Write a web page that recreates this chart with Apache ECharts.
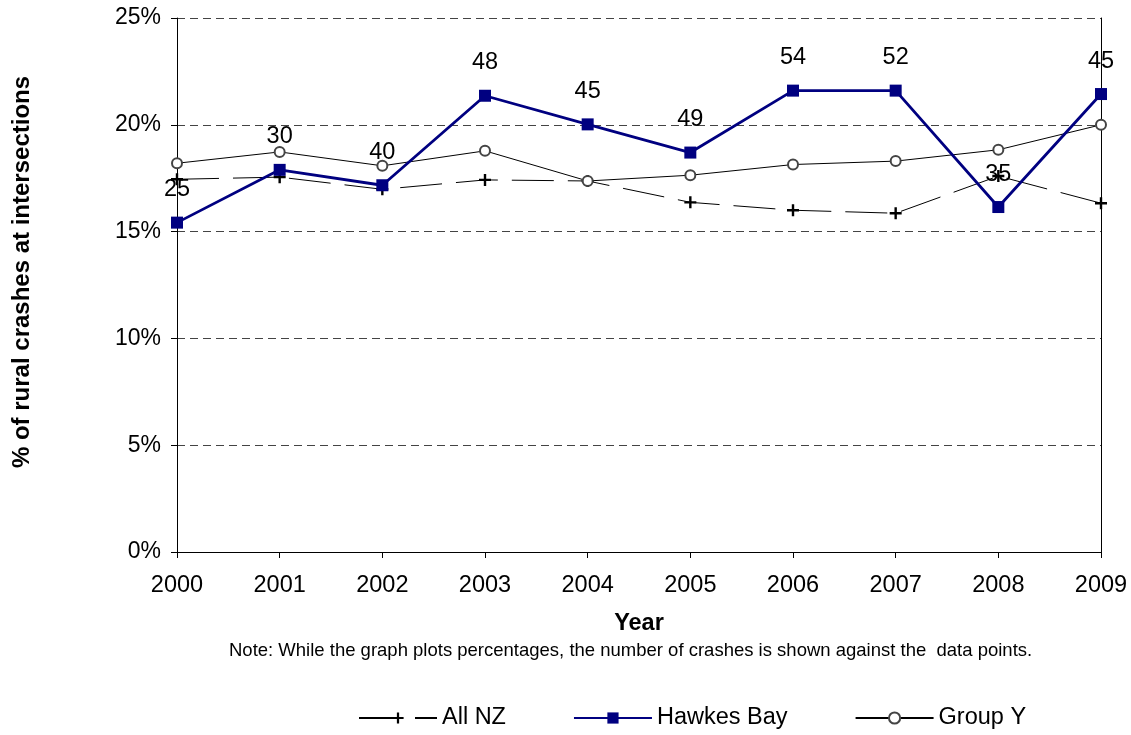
<!DOCTYPE html>
<html>
<head>
<meta charset="utf-8">
<script src="https://cdn.jsdelivr.net/npm/echarts@6/dist/echarts.min.js"></script>
<style>
html,body{margin:0;padding:0;background:#fff;}
#chart{width:1131px;height:735px;}
</style>
</head>
<body>
<div id="chart"></div>
<script>
var years = ['2000','2001','2002','2003','2004','2005','2006','2007','2008','2009'];
var allNZ = [17.45, 17.55, 16.98, 17.42, 17.37, 16.37, 16.0, 15.86, 17.6, 16.33];
var hawkesBay = [15.42, 17.89, 17.17, 21.36, 20.02, 18.7, 21.6, 21.6, 16.15, 21.44];
var groupY = [18.2, 18.73, 18.08, 18.78, 17.37, 17.64, 18.14, 18.3, 18.83, 20.0];
var hbCrashCounts = [25, 30, 40, 48, 45, 49, 54, 52, 35, 45];
var yTicks = [0, 5, 10, 15, 20, 25];

var FONT = '"Liberation Sans", Arial, sans-serif';
var chart = echarts.init(document.getElementById('chart'), null, {renderer: 'canvas'});
var plus = 'path://M4,0H6V4H10V6H6V10H4V6H0V4H4Z';

chart.setOption({
  animation: false,
  textStyle: {fontFamily: FONT},
  grid: {left: 177, right: 30, top: 18, bottom: 183, containLabel: false},
  legend: {
    bottom: 0, left: 353,
    itemWidth: 78, itemHeight: 14, itemGap: 67,
    textStyle: {fontFamily: FONT, fontSize: 23.5, color: '#000'},
    data: ['All NZ', 'Hawkes Bay', 'Group Y']
  },
  xAxis: {
    type: 'category', data: years, boundaryGap: false,
    name: 'Year', nameLocation: 'middle', nameGap: 60,
    nameTextStyle: {fontFamily: FONT, fontSize: 23.5, fontWeight: 'bold', color: '#000'},
    axisLine: {lineStyle: {color: '#000', width: 1}},
    axisTick: {show: true, length: 6, lineStyle: {color: '#000'}},
    axisLabel: {fontFamily: FONT, fontSize: 23.5, color: '#000', margin: 22},
    splitLine: {show: false}
  },
  yAxis: [{
    type: 'value', min: yTicks[0], max: yTicks[yTicks.length-1], interval: 5,
    axisLine: {show: true, lineStyle: {color: '#000', width: 1}},
    axisTick: {show: true, length: 6, lineStyle: {color: '#000'}},
    axisLabel: {fontFamily: FONT, fontSize: 23, color: '#000', margin: 16, formatter: '{value}%'},
    splitLine: {show: true, lineStyle: {color: '#444', type: [8, 5], width: 1}}
  }, {
    type: 'value', min: 0, max: 25, interval: 5, position: 'right',
    axisLine: {show: true, lineStyle: {color: '#000', width: 1}},
    axisTick: {show: false}, axisLabel: {show: false}, splitLine: {show: false}
  }],
  series: [{
    name: 'All NZ', type: 'line', data: allNZ, z: 2,
    symbol: plus, symbolSize: 12,
    itemStyle: {color: '#000'},
    lineStyle: {color: '#000', width: 1, type: [42, 14]}
  }, {
    name: 'Hawkes Bay', type: 'line', data: hawkesBay, z: 4,
    symbol: 'rect', symbolSize: 12,
    itemStyle: {color: '#000080'},
    lineStyle: {color: '#000080', width: 2.8},
    label: {
      show: true, position: 'top', distance: 15,
      fontFamily: FONT, fontSize: 23.5, color: '#000',
      formatter: function (p) { return hbCrashCounts[p.dataIndex]; }
    }
  }, {
    name: 'Group Y', type: 'line', data: groupY, z: 3,
    symbol: 'circle', symbolSize: 10,
    itemStyle: {color: '#fff', borderColor: '#444', borderWidth: 2},
    lineStyle: {color: '#000', width: 1}
  }],
  graphic: [{
    type: 'text', x: 22, y: 272, rotation: Math.PI / 2,
    style: {
      text: '% of rural crashes at intersections',
      fontFamily: FONT, fontSize: 24, fontWeight: 'bold', fill: '#000',
      align: 'center', verticalAlign: 'middle'
    }
  }, {
    type: 'text', left: 229, top: 641,
    style: {
      text: 'Note: While the graph plots percentages, the number of crashes is shown against the  data points.',
      fontFamily: FONT, fontSize: 18.5, fill: '#000'
    }
  }]
});
</script>
</body>
</html>
